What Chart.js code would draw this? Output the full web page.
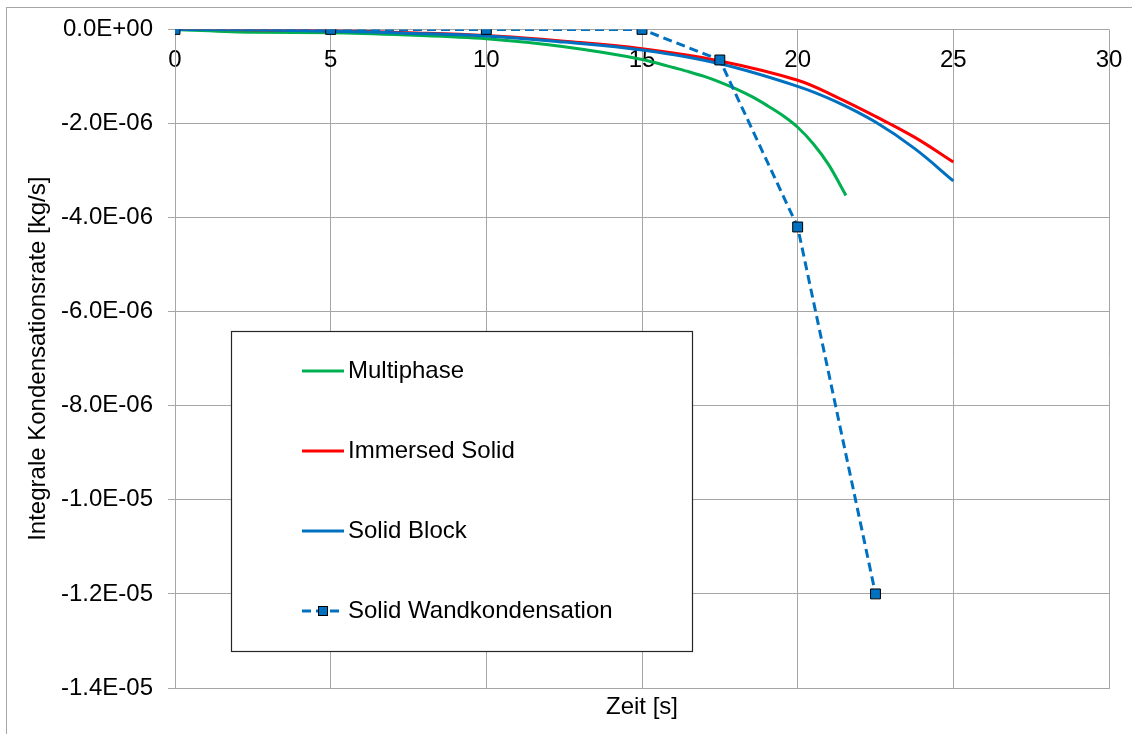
<html>
<head>
  <title>Integrale Kondensationsrate</title>
  <script src="https://cdn.jsdelivr.net/npm/chart.js"></script>
  <style>
    body { margin: 0; background: #fff; overflow: hidden; }
    #wrap { position: relative; width: 1132px; height: 734px; }
    #frame { position: absolute; left: 6px; top: 7px; width: 1200px; height: 800px; border: 1px solid #a6a6a6; box-sizing: border-box; }
    #Chart { position: absolute; left: 0; top: 0; }
  </style>
</head>
<body>
  <div id="wrap">
    <div id="frame"></div>
    <canvas id="Chart" width="1132" height="734"></canvas>
  </div>

  <script>
// values, y in kg/s
const multiphaseX = [0, 2.5, 5, 7.5, 10, 12.5, 15, 15.5, 16, 16.5, 17, 17.5, 18, 18.5, 19, 19.5, 20, 20.5, 21, 21.55];
const multiphaseY = [0, -0.06e-6, -0.07e-6, -0.12e-6, -0.2e-6, -0.37e-6, -0.64e-6, -0.72e-6, -0.81e-6, -0.9e-6, -1.0e-6, -1.12e-6, -1.26e-6, -1.42e-6, -1.61e-6, -1.82e-6, -2.08e-6, -2.43e-6, -2.88e-6, -3.53e-6];

const immersedX = [0, 2.5, 5, 7.5, 10, 12.5, 15, 17.5, 20, 21.25, 22.5, 23.75, 25];
const immersedY = [0, -0.01e-6, -0.03e-6, -0.07e-6, -0.13e-6, -0.25e-6, -0.41e-6, -0.67e-6, -1.08e-6, -1.44e-6, -1.85e-6, -2.29e-6, -2.82e-6];

const blockX = [0, 2.5, 5, 7.5, 10, 12.5, 15, 17.5, 20, 21.25, 22.5, 23.75, 25];
const blockY = [0, -0.01e-6, -0.04e-6, -0.08e-6, -0.14e-6, -0.27e-6, -0.44e-6, -0.73e-6, -1.21e-6, -1.54e-6, -1.97e-6, -2.53e-6, -3.22e-6];

const wandX = [0, 5, 10, 15, 17.5, 20, 22.5];
const wandY = [0, 0, 0, 0, -0.65e-6, -4.2e-6, -1.2e-5];

const seriesNames = ['Multiphase', 'Immersed Solid', 'Solid Block', 'Solid Wandkondensation'];
const xTicks = { min: 0, max: 30, step: 5 };
const yTicks = { min: -1.4e-5, max: 0, step: 2e-6 };

const FONT = "'Liberation Sans', Arial, sans-serif";
const GRID = '#a6a6a6';

function pts(xs, ys) {
  return xs.map((x, i) => ({ x: x, y: ys[i] }));
}

function sci(v) {
  if (Math.abs(v) < 1e-12) v = 0;
  const parts = v.toExponential(1).split('e');
  const sign = parts[1][0] === '-' ? '-' : '+';
  const digits = parts[1].replace(/[+-]/, '');
  return parts[0] + 'E' + sign + digits.padStart(2, '0');
}

// legend box drawn inside the plot like the Excel one
const boxLegend = {
  id: 'boxLegend',
  afterDatasetsDraw(chart) {
    const ctx = chart.ctx;
    const left = 231, top = 331, w = 461, h = 320;
    ctx.save();
    ctx.fillStyle = '#fff';
    ctx.fillRect(left, top, w, h);
    ctx.strokeStyle = '#262626';
    ctx.lineWidth = 1.2;
    ctx.strokeRect(left + 0.5, top + 0.5, w, h);

    chart.data.datasets.forEach((ds, i) => {
      const y = top + 40 + i * 80;
      ctx.strokeStyle = ds.borderColor;
      ctx.lineWidth = ds.borderWidth;
      ctx.setLineDash(ds.borderDash || []);
      ctx.beginPath();
      ctx.moveTo(302, y);
      ctx.lineTo(344, y);
      ctx.stroke();
      ctx.setLineDash([]);
      if (ds.pointRadius > 0) {
        ctx.fillStyle = ds.pointBackgroundColor;
        ctx.fillRect(318, y - 5, 10, 10);
        ctx.strokeStyle = '#000';
        ctx.lineWidth = 1;
        ctx.strokeRect(318.5, y - 4.5, 9, 9);
      }
      ctx.fillStyle = '#000';
      ctx.font = '24px ' + FONT;
      ctx.textAlign = 'left';
      ctx.textBaseline = 'middle';
      ctx.fillText(ds.label, 348, y);
    });
    ctx.restore();
  }
};

const data = {
  datasets: [
    {
      label: seriesNames[0],
      data: pts(multiphaseX, multiphaseY),
      borderColor: '#00b050',
      borderWidth: 3,
      pointRadius: 0,
      cubicInterpolationMode: 'monotone',
      order: 3
    },
    {
      label: seriesNames[1],
      data: pts(immersedX, immersedY),
      borderColor: '#ff0000',
      borderWidth: 3,
      pointRadius: 0,
      tension: 0.4,
      order: 2
    },
    {
      label: seriesNames[2],
      data: pts(blockX, blockY),
      borderColor: '#0070c0',
      borderWidth: 3,
      pointRadius: 0,
      tension: 0.4,
      order: 1
    },
    {
      label: seriesNames[3],
      data: pts(wandX, wandY),
      borderColor: '#0070c0',
      borderWidth: 3,
      borderDash: [9, 5],
      pointRadius: 7,
      pointStyle: 'rect',
      pointBackgroundColor: '#0070c0',
      pointBorderColor: '#000',
      pointBorderWidth: 1,
      tension: 0,
      order: 0
    }
  ]
};

const config = {
  type: 'scatter',
  data: data,
  plugins: [boxLegend],
  options: {
    responsive: false,
    animation: false,
    showLine: true,
    layout: { padding: { top: 29, right: 23, bottom: 0, left: 0 } },
    plugins: { legend: { display: false }, tooltip: { enabled: false } },
    scales: {
      x: {
        type: 'linear',
        position: 'bottom',
        min: xTicks.min, max: xTicks.max,
        ticks: { display: false, stepSize: xTicks.step },
        grid: { color: GRID, lineWidth: 1, drawTicks: false },
        border: { color: GRID },
        title: {
          display: true, text: 'Zeit [s]', color: '#000',
          font: { family: FONT, size: 24 }, padding: { top: 0, bottom: 12 }
        },
        afterFit: s => { s.height = 46; }
      },
      xTop: {
        type: 'linear',
        axis: 'x',
        position: { y: 0 },
        min: xTicks.min, max: xTicks.max,
        ticks: {
          stepSize: xTicks.step, color: '#000', padding: 17,
          font: { family: FONT, size: 24 }, maxRotation: 0
        },
        grid: { display: false, drawTicks: false },
        border: { display: false },
        afterFit: s => { s.paddingLeft = 0; s.paddingRight = 0; }
      },
      y: {
        type: 'linear',
        position: 'left',
        min: yTicks.min, max: yTicks.max,
        ticks: {
          stepSize: yTicks.step, color: '#000', padding: 15,
          font: { family: FONT, size: 24 },
          callback: v => sci(v)
        },
        grid: { color: GRID, lineWidth: 1, tickLength: 7 },
        border: { color: GRID },
        title: {
          display: true, text: 'Integrale Kondensationsrate [kg/s]', color: '#000',
          font: { family: FONT, size: 24 }, padding: { top: 24, bottom: 0 }
        },
        afterFit: s => { s.width = 175; }
      }
    }
  }
};

window.addEventListener('load', () => {
  const ctx = document.getElementById('Chart').getContext('2d');
  new Chart(ctx, config);
});
  </script>
</body>
</html>
